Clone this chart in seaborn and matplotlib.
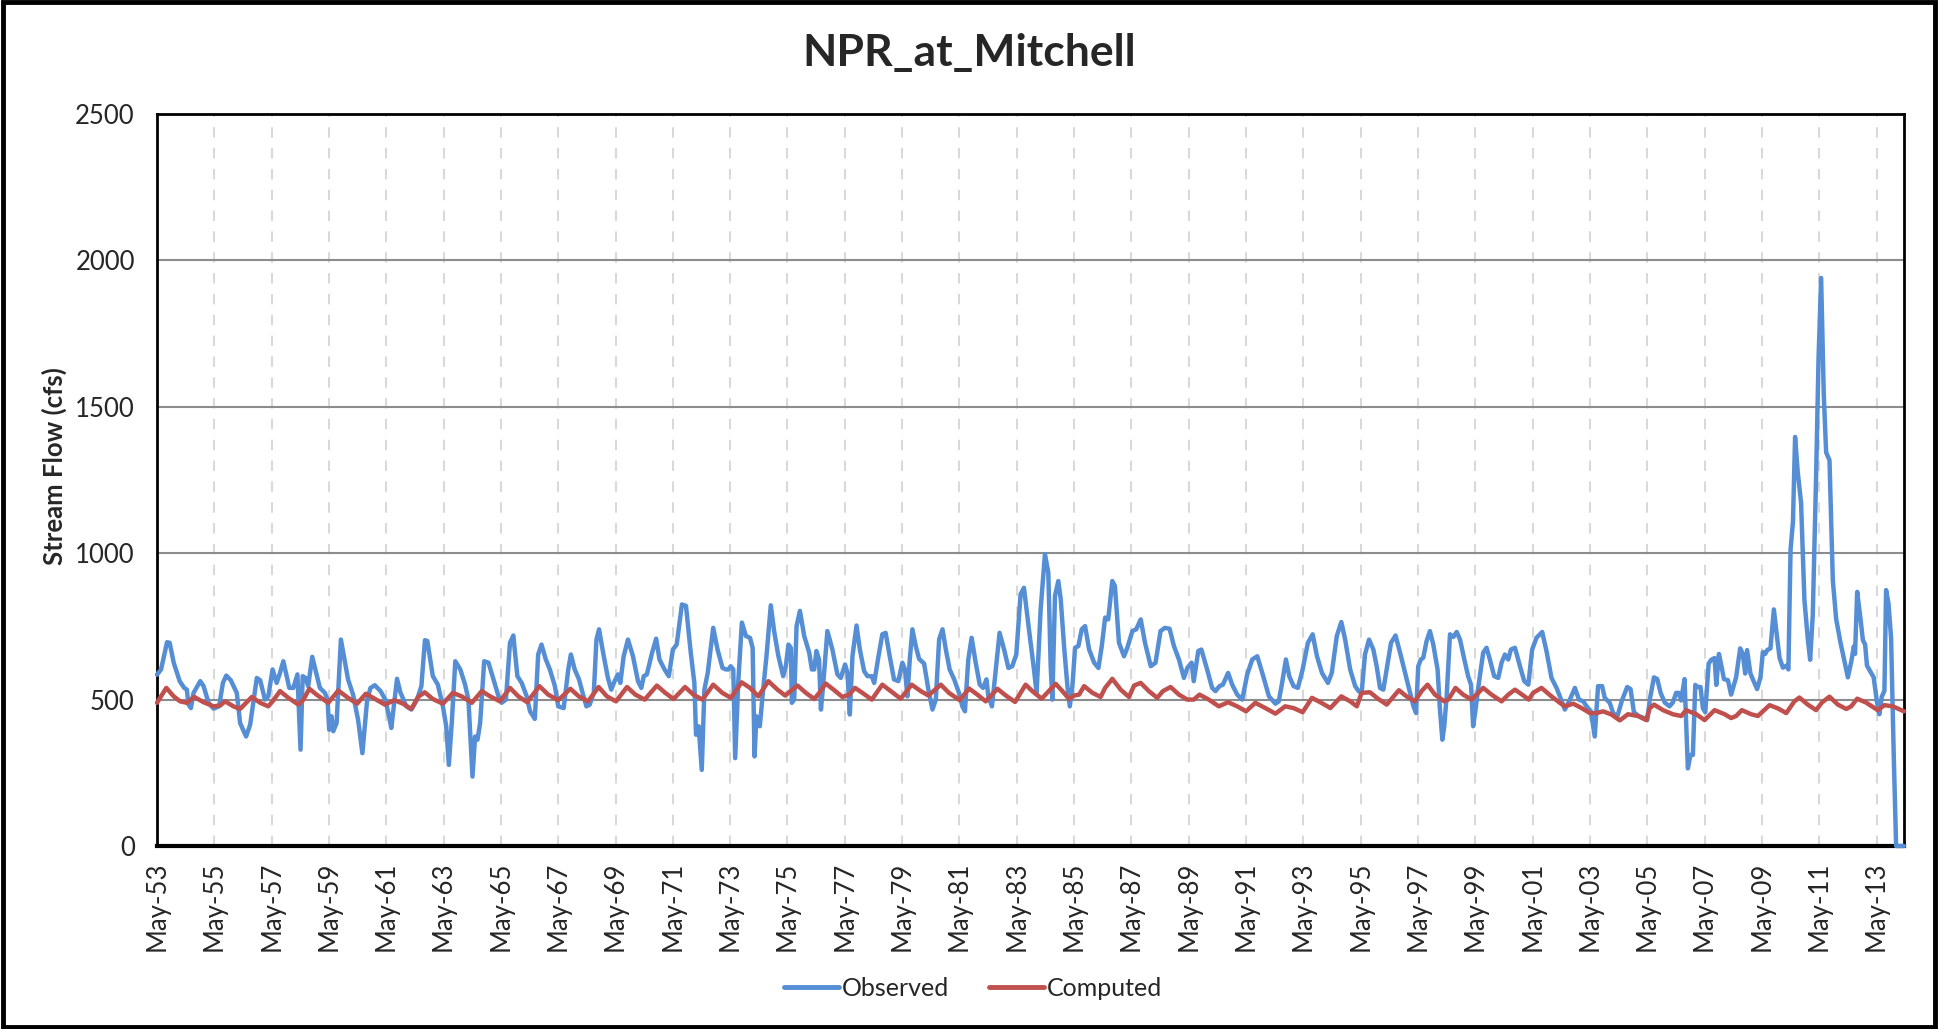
import numpy as np
import pandas as pd
import seaborn as sns
import matplotlib.pyplot as plt
from matplotlib.lines import Line2D
from matplotlib.patches import Rectangle

# months after May-1953
obs_month = [0, 1.7, 4.2, 5.3, 7, 9.5, 11.4, 12.5, 13.2, 14.2, 15.3, 18.1, 19.5, 21.6, 23.7, 26, 27.6, 29, 30.9, 33.4,
             34.8, 37.3, 39, 41.8, 43.2, 45.2, 46.6, 48.4, 50.1, 51.5, 52.9, 55.4, 57.1, 58.8, 60.1, 61, 62.2, 63.3, 65,
             68.2, 70.3, 71.4, 72.1, 73.1, 73.8, 75.2, 77, 80, 82.1, 84.2, 86, 88, 89.4, 91.2, 93.6, 95.6, 97, 98.1,
             100.5, 101.9, 104.4, 106.5, 108.9, 110.7, 112.2, 113.2, 115.5, 117.6, 119.7, 121.1, 122.2, 123.5, 124.9,
             127, 129, 130.4, 132.1, 133.2, 134.2, 135.3, 137, 138.8, 140.9, 143, 144.3, 146.1, 147.8, 149.2, 150.9,
             152.7, 154.8, 156.2, 158.2, 159.6, 161, 162.8, 164.5, 166.6, 168, 170.3, 172.2, 173.3, 174.9, 176.7,
             178.4, 179.8, 181.2, 182.9, 184, 185.1, 186.8, 188.8, 190.2, 191.6, 193, 194, 195.4, 197.2, 199.3, 201.4,
             202.8, 203.8, 205.1, 207.3, 209, 210.4, 212.5, 214.3, 216, 217.6, 219.8, 221.5, 223.5, 225, 225.7, 226.8,
             228.1, 229.2, 230.6, 232.9, 234.7, 236.8, 238.2, 239.3, 240.2, 241.3, 242.1, 243.4, 244.9, 246.6, 248.3,
             249.4, 250.2,
             251, 252.4, 253.8, 255.2, 257, 258.4, 260.2, 262.2, 263.3, 264.4, 265.4, 265.8, 266.8, 267.8, 269.2, 271,
             273.1, 274.2, 275.2, 276.1, 277.2, 278, 278.9, 280.7, 282.8, 284.9, 286.3, 288.1, 289.1, 290.1, 291.2,
             292.9, 294.3, 296.1, 297.5, 299.3, 300.3, 302.1, 303.7, 305.1, 306.8, 308.6, 310.4, 312.1, 313.2, 314.2,
             315.2, 316.3, 317.7, 319.1, 321.2, 323, 324.7, 326.1, 327.5, 328.9, 330.3, 331.9, 333.8, 335.8, 337.2,
             338.3, 339.7, 341.1, 342.8, 344.5, 345.9, 347.3, 348.1, 349.6, 350.5, 352.8, 354.7, 356.5, 358.1, 359.8,
             361.6, 363, 365.1, 367.2, 368.3, 370, 371.8, 373.2, 374.2, 374.9, 376, 377.4,
             378.4, 379.8, 381.2, 382.2, 383.3, 384.4, 385.8, 387.2, 388.6, 390.3, 392.4, 394.2, 395.6, 397, 398.3,
             400, 401.1, 402.8, 404.9, 406.3, 408.4, 410, 411.9, 413.7, 416.1, 418.1, 420.2, 422, 424, 425.8, 427.9,
             430, 431.4, 433.2, 434.1, 436, 437.3, 439.7, 441.8, 443.2, 444.9, 446.3, 448.5, 450.2, 452.3, 454.4,
             456.5, 458.6, 460.7, 462.8, 465.6, 468.3, 469.7, 471.1, 472.7, 474.1, 475.9, 477.7, 479.7, 481.9, 483.9,
             485.7, 487.8, 490.3, 491.9, 494, 495.9, 497.5, 499.6, 501.7, 503.1,
             504.4, 505.8, 507.5, 509.3, 510.7, 512.1, 513.5, 514.9, 516.7, 518.6, 520.5, 522.6, 524.7, 526.1, 527.2,
             528.1, 529.2, 530.2, 531.6, 533, 534.4, 536.2, 537.2, 538.2, 539, 540, 541.4, 542.8, 544.2, 545.6, 547.4,
             549, 550.2, 551.1, 552.1, 553.5, 555.3, 556.7, 558.1, 559.9, 561.6, 563, 564.4, 565.8, 566.9, 568.6,
             570.7, 572.5, 574.2, 575.8, 577.6, 580, 581.8, 583.9, 586, 587.4, 589.5, 591.6, 593.7, 595.4, 597.2,
             598.6, 600.4, 602, 603.4, 605.1, 606.2, 608.3, 609.7, 611.5,
             613.4, 615.6, 617, 618.4, 620.4, 622.6, 624, 625, 626.8, 628.2, 629.6, 631.3, 633.3, 634.7, 636.1, 637.1,
             638.2, 639.6, 641, 642.1, 643.1, 644.1, 645.2, 646.3, 647.3, 648.3, 649.7, 650.8, 652.2, 652.9, 654,
             655.2, 656.1, 657.8, 659.1, 661.2, 662.9, 664, 665, 665.8, 667.2, 668.9, 670, 671.4, 672.4, 673.4, 674.2,
             675.6, 677, 678.4, 679.4, 680.8, 682.2, 683.1, 684, 685, 685.9, 687, 688.4, 689.8, 691.2, 692.2, 693.3,
             694.7, 695.7, 696.8, 697.9, 698.9, 700.3, 701.7, 703.1, 704.9, 706.6, 708, 709.4, 710.5, 711, 711.9,
             713.3, 714.3, 715.2, 716, 717.4, 718.8, 720.2, 721.2, 722.2, 723.3, 724, 725, 726.1, 727.2, 728.2, 731.5]
obs_cfs = [585, 603, 696, 694, 626, 563, 540, 534, 483, 471, 523, 563, 546, 489, 469, 477, 557, 582, 566, 523,
           420, 374, 414, 574, 566, 500, 511, 603, 557, 591, 631, 540, 540, 586, 329, 580, 574, 546, 646,
           540, 523, 500, 397, 443, 392, 420, 705, 569, 517, 431, 317, 500, 540, 549, 529, 500, 449, 403,
           571, 525, 477, 466, 500, 546, 703, 700, 580, 551, 477, 409, 277, 431, 631,
           603, 551, 500, 237, 374, 363, 420, 631, 626, 569, 511, 489, 500, 694, 719, 580,
           557, 511, 460, 434, 654, 688, 637, 603, 546, 477, 471, 603, 654, 603, 569,
           517, 477, 483, 523, 705, 740, 660, 574, 534, 563, 586, 557, 648, 705, 648, 563,
           540, 580, 586, 660, 708, 637, 603, 580, 671, 688, 825, 820, 660, 557, 380, 409,
           260, 534, 591, 745, 671, 608, 603, 603, 614, 603, 300, 563, 763, 717, 711,
           677, 306,
           443, 409, 534, 648, 822, 734, 648, 580, 614, 688, 677, 489, 500, 751, 803, 717,
           660, 603, 603, 666, 637, 466, 546, 734, 671, 586, 574, 620, 591, 449, 648,
           753, 671, 597, 580, 580, 557, 648, 723, 728, 648, 569, 563, 626, 603, 511,
           637, 740, 683, 639, 623, 534, 466, 500, 706, 740, 671, 603, 569, 523, 477,
           460, 637, 711, 626, 551, 540, 569, 511, 477, 546, 728, 671, 608, 614, 654,
           860, 882, 740, 603, 523, 808, 997, 934, 614, 500, 854, 905,
           843, 683, 546, 477, 546, 677, 683, 740, 751, 671, 626, 608, 683, 780, 774,
           905, 888, 694, 648, 677, 734, 740, 774, 694, 614, 626, 734, 745, 742, 683, 637,
           574, 608, 626, 563, 666, 671, 603, 540, 529, 546, 551, 591, 551, 517, 500,
           586, 637, 648, 591, 511, 486, 494, 557, 637, 580, 546, 540, 603, 694, 723,
           648, 591, 557, 591, 717, 765, 705, 603, 546, 529,
           523, 654, 705, 671, 614, 540, 534, 603, 694, 719, 660, 591, 523, 477, 454,
           614, 637, 643, 700, 734, 688, 603, 466, 363, 409, 511, 723, 714, 731, 705, 637,
           580, 551, 409, 466, 557, 660, 677, 637, 580, 574, 626, 654, 637, 671, 677,
           614, 563, 551, 671, 711, 731, 666, 574, 540, 511, 466, 500, 540, 500, 494,
           477, 460, 374, 546, 546, 506, 489, 454, 443,
           497, 543, 536, 457, 444, 437, 430, 497, 576, 570, 523, 490, 477, 490, 523, 523,
           497, 570, 265, 311, 311, 550, 543, 543, 470, 457, 623, 636, 642, 550, 656,
           609, 570, 566, 517, 576, 675, 656, 589, 669, 589, 556, 536, 576, 662, 656, 669,
           675, 808, 709, 642, 609, 616, 603, 1013, 1106, 1397, 1278, 1172, 841, 709, 636, 788,
           1265, 1662, 1940, 1543, 1344, 1318, 907, 775, 695, 629, 576, 629, 682, 656, 868,
           775, 702, 689, 616, 596, 576, 490, 450, 510, 530, 874, 828, 709, 311, 0, 0]

comp_month = [0, 3.9, 7, 9.7, 12.5, 15.6, 19.5, 23.7, 26.5, 28.5, 32, 34.8, 37.3, 39.7, 43.2, 46.6, 48.4, 51.5, 55,
              59.2, 61.3, 63.8, 66.8, 71.7, 75.9, 80, 83.8, 87.4, 90.5, 95.4, 99.5, 103, 106.5, 109.3, 112.1, 115.5,
              119.7, 123.9,
              127.6, 131.8, 136, 139.5, 143.6, 147.8, 151.3, 155, 160.1, 163.8, 168, 173.1, 176.6, 180.5, 184.9,
              188.4, 192.2, 196.8, 200.3, 204.2, 209.3, 212.8, 216.3, 221.1, 224.6, 228.4, 232.9, 236.7, 240.3,
              244.8, 248.3, 251.8,
              256, 259.8, 263, 264.7, 268.2, 271.7, 275.2, 277.3, 280, 283.6, 287, 289.8, 292.3, 295.7, 299.3,
              303.7, 307.2, 311.4, 316, 319.8, 323, 328.2, 331.6, 336.1, 340, 343.5, 347, 351.9, 355.4, 359.3, 363.7,
              366.5, 370.4, 376.3,
              379.1, 381.9, 384, 386.1, 388.2, 391.7, 395.1, 397, 400, 403.5, 407, 409.1, 411.9, 415.3, 418.8, 421.2,
              424.4, 427.9, 431.4, 434.1, 436.5, 440.4, 444.6, 448.5, 452.3, 456, 459.9, 464.1, 468.3, 472.4, 475.9,
              479.7, 483.6, 487.1, 491.3, 495.9, 499.6, 502.4,
              504.4, 507.9, 511.4, 514.9, 520, 523.2, 526.7, 529.5, 532, 535.1, 539, 540.7, 543.7, 546.9, 550.4,
              555.3, 558.8, 563, 565.8, 568.6, 572.1, 574.4, 576.2, 579.7, 583.9, 587.4, 589.5, 593, 596.5, 600,
              602.8, 605.5, 609, 612.5,
              615.9, 620.1, 623.6, 625, 626.8, 630.6, 634.7, 638.2, 640.3, 644.5, 648, 652.2, 656.4, 659.1, 661.2,
              663.6, 667.5, 670.3, 675.2, 678.7, 682.2, 685.6, 687.7, 691.2, 694.7, 697.1, 700.3, 703.8, 707.3, 709.4,
              711.9, 715.6, 720.5, 723.3, 726.8, 731.5]
comp_cfs = [489, 540, 511, 494, 489, 509, 491, 477, 480, 494, 477, 468, 489, 509, 489, 477, 494, 529, 506,
            483, 500, 537, 517, 489, 531, 506, 486, 520, 506, 483, 498, 486, 468, 509, 525, 502,
            486, 523,
            511, 489, 529, 511, 494, 540, 511, 491, 546, 517, 498, 537, 511, 494, 543,
            511, 494, 543, 517, 500, 548, 523, 502, 543, 517, 500, 551, 523, 506,
            559, 540, 511,
            563, 534, 514, 525, 548, 523, 502, 523, 555, 532, 509, 517, 540, 521, 500,
            551, 529, 503, 551, 529, 514, 551, 523, 498, 538, 517, 494, 537, 514, 492, 551,
            529, 503, 554,
            529, 502, 514, 517, 546, 523, 509, 540, 571, 534, 509, 548, 557, 529, 506, 529,
            543, 517, 500, 500, 517, 500, 477, 491, 477, 460, 489, 471, 452, 477, 471,
            457, 506, 491, 471, 511, 494, 477,
            523, 525, 502, 483, 532, 511, 494, 529, 551, 517, 494, 500, 540, 517, 500,
            540, 517, 494, 517, 534, 514, 500, 523, 540, 511, 489, 477, 486, 471, 454,
            454, 460, 449, 429,
            450, 444, 430, 470, 483, 464, 450, 444, 464, 450, 430, 464, 450, 437, 444,
            464, 450, 444, 481, 470, 454, 494, 507, 483, 464, 490, 510, 483, 468, 477,
            503, 490, 464, 481, 477, 460]

tick_years = list(range(1953, 2014, 2))
tick_labels = ["May-%02d" % (y % 100) for y in tick_years]

obs = pd.DataFrame({"month": obs_month, "cfs": obs_cfs, "series": "Observed"})
comp = pd.DataFrame({"month": comp_month, "cfs": comp_cfs, "series": "Computed"})
df = pd.concat([obs, comp], ignore_index=True)

sns.set_theme(style="white")
plt.rcParams['font.family'] = ['Lato', 'DejaVu Sans']

colors = {"Observed": "#558ED5", "Computed": "#C0504D"}

fig = plt.figure(figsize=(19.38, 10.29), dpi=100)
ax = fig.add_axes([157 / 1938, 1 - 846 / 1029, (1904 - 157) / 1938, (846 - 114) / 1029])

sns.lineplot(data=df, x="month", y="cfs", hue="series", palette=colors, estimator=None,
             linewidth=3.2, ax=ax, legend=False)
for ln in ax.lines:
    ln.set_clip_on(False)
    ln.set_zorder(4)
    ln.set_solid_joinstyle("round")

ax.set_xlim(0, 731.5)
ax.set_ylim(0, 2500)
ax.set_xticks([(y - 1953) * 12 for y in tick_years])
ax.set_xticklabels(tick_labels, rotation=90)
ax.set_yticks(range(0, 2501, 500))
ax.set_xlabel("")
ax.set_ylabel("")

ax.grid(axis="x", color="#d9d9d9", linestyle=(0, (5, 5)), linewidth=1.5)
ax.grid(axis="y", color="#8c8c8c", linewidth=1.5)
ax.set_axisbelow(True)
for s in ax.spines.values():
    s.set_color("black")
    s.set_linewidth(2)
ax.spines["bottom"].set_linewidth(3)

ax.tick_params(axis="x", direction="out", length=8, width=2.5, color="black", pad=3, labelsize=18.5)
ax.tick_params(axis="y", length=0, pad=16, labelsize=18.5)

fig.text(969 / 1938, 1 - 53 / 1029, "NPR_at_Mitchell", ha="center", va="center",
         fontsize=32, fontweight="bold")
fig.text(54 / 1938, 1 - 466 / 1029, "Stream Flow (cfs)", ha="center", va="center",
         rotation=90, fontsize=18.5, fontweight="bold")

handles = [Line2D([], [], color=colors[k], lw=3.5) for k in ["Observed", "Computed"]]
fig.legend(handles, ["Observed", "Computed"], loc="center", bbox_to_anchor=(973 / 1938, 1 - 988 / 1029),
           ncol=2, frameon=False, fontsize=18, handlelength=2.2, handletextpad=0.1, columnspacing=1.6)

fig.patches.append(Rectangle((0.0015, 0.002), 0.997, 0.996, transform=fig.transFigure,
                             fill=False, edgecolor="black", linewidth=3.5))

fig.savefig("out.png", dpi=100)
